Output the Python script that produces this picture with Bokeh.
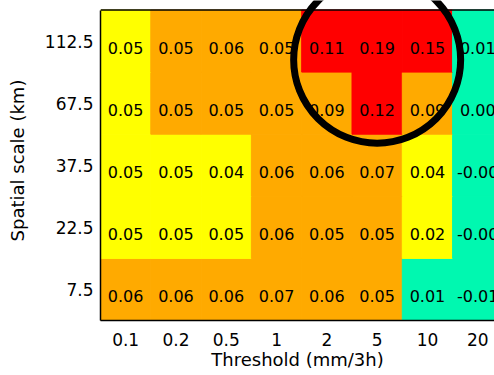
import numpy as np
from bokeh.plotting import figure
from bokeh.models import FixedTicker, Range1d, ColumnDataSource, Span
from bokeh.core.properties import value
from bokeh.embed import file_html
from bokeh.resources import INLINE

# Data
thresholds = ["0.1", "0.2", "0.5", "1", "2", "5", "10", "20"]
scales = ["7.5", "22.5", "37.5", "67.5", "112.5"]  # bottom -> top

# values per spatial scale (row), across thresholds
row_7_5   = [0.056, 0.058, 0.058, 0.068, 0.060, 0.052, 0.012, -0.006]
row_22_5  = [0.048, 0.048, 0.048, 0.058, 0.052, 0.052, 0.022, -0.003]
row_37_5  = [0.048, 0.048, 0.042, 0.058, 0.058, 0.068, 0.042, -0.003]
row_67_5  = [0.048, 0.052, 0.052, 0.052, 0.088, 0.118, 0.088, 0.003]
row_112_5 = [0.048, 0.052, 0.058, 0.052, 0.108, 0.188, 0.148, 0.008]
rows = [row_7_5, row_22_5, row_37_5, row_67_5, row_112_5]

# colour classes
bin_edges = [0.015, 0.05, 0.10]
bin_colors = ["#00F8B0", "#FFFF00", "#FFAA00", "#FF0000"]

# highlighted region (circle): around thresholds 2-10, upper scales
highlight_x = 5
highlight_y = 3.7

xs, ys, vals = [], [], []
for j, r in enumerate(rows):
    for i, v in enumerate(r):
        xs.append(i)
        ys.append(j)
        vals.append(v)
colors = [bin_colors[int(np.digitize(v, bin_edges))] for v in vals]
labels = ["%.2f" % v for v in vals]
src = ColumnDataSource(dict(x=xs, y=ys, v=vals, color=colors, label=labels))

FONT = "DejaVu Sans"
n_x, n_y = len(thresholds), len(scales)

p = figure(width=494, height=375, output_backend="svg", toolbar_location=None,
           x_range=Range1d(-0.5, 7.333), y_range=Range1d(-0.5, n_y - 0.5 + 0.153),
           min_border_left=100, min_border_right=0, min_border_top=0, min_border_bottom=55)
p.outline_line_color = None
p.grid.visible = False
p.background_fill_color = "white"

p.rect(x="x", y="y", width=1, height=1, source=src, fill_color="color",
       line_color="color", line_width=1)
p.text(x="x", y="y", text="label", source=src, text_align="center",
       text_baseline="middle", y_offset=7, text_font=value(FONT),
       text_font_size="16px", text_color="black")

p.scatter(x=[highlight_x], y=[highlight_y], marker="circle", size=167,
          fill_color=None, line_color="black", line_width=7)

p.add_layout(Span(location=n_y - 0.5, dimension="width", line_color="black",
                  line_width=1.5))

p.xaxis.ticker = FixedTicker(ticks=list(range(n_x)))
p.xaxis.major_label_overrides = {i: t for i, t in enumerate(thresholds)}
p.yaxis.ticker = FixedTicker(ticks=list(range(n_y)))
p.yaxis.major_label_overrides = {i: s for i, s in enumerate(scales)}
p.yaxis.bounds = (-0.5, n_y - 0.5)

for ax in (p.xaxis, p.yaxis):
    ax.major_tick_line_color = None
    ax.minor_tick_line_color = None
    ax.major_tick_out = 0
    ax.major_tick_in = 0
    ax.axis_line_color = "black"
    ax.axis_line_width = 1.5
    ax.major_label_text_font = FONT
    ax.major_label_text_font_size = "17px"
    ax.major_label_text_color = "black"
    ax.axis_label_text_font = FONT
    ax.axis_label_text_font_size = "18px"
    ax.axis_label_text_font_style = "normal"
    ax.axis_label_text_color = "black"

p.xaxis.axis_label = "Threshold (mm/3h)"
p.yaxis.axis_label = "Spatial scale (km)"
p.xaxis.major_label_standoff = 12
p.xaxis.axis_label_standoff = 0
p.yaxis.major_label_standoff = 7
p.yaxis.axis_label_standoff = 14

open("out.html", "w").write(file_html(p, INLINE))
